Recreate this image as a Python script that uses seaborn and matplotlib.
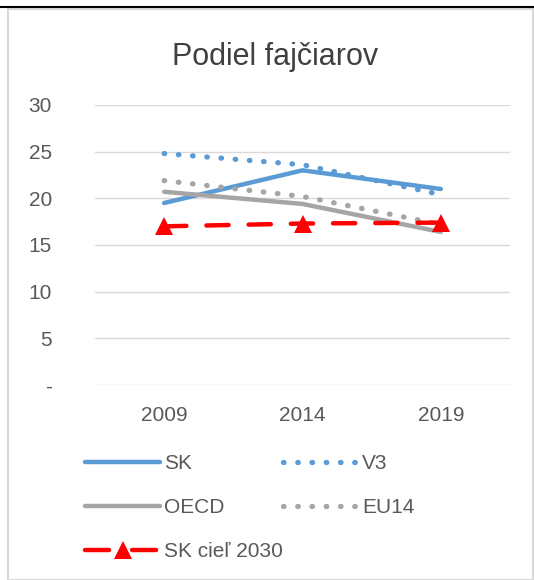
import matplotlib
matplotlib.use("Agg")
import matplotlib.pyplot as plt
import seaborn as sns
import pandas as pd
from matplotlib.lines import Line2D
from matplotlib.patches import Rectangle
from matplotlib.legend_handler import HandlerLine2D

years = ["2009", "2014", "2019"]
sk = [19.5, 23.0, 21.0]
v3 = [24.8, 23.6, 20.4]
oecd = [20.7, 19.4, 16.4]
eu14 = [21.9, 20.2, 17.2]
sk_target = [17.0, 17.3, 17.4]
yticks = [0, 5, 10, 15, 20, 25, 30]
ytick_labels = ["-", "5", "10", "15", "20", "25", "30"]

sns.set_theme(style="white")
plt.rcParams["font.family"] = ["Liberation Sans", "DejaVu Sans"]

fig = plt.figure(figsize=(5.34, 5.8), dpi=100)
ax = fig.add_axes([95/534, 1-385/580, 415/534, (385-105)/580])

blue = "#5B9BD5"
gray = "#A5A5A5"
red = "#FF0000"
txt = "#595959"
dots = (0, (0.1, 2.6))
dot_lw = 3.8

df = pd.DataFrame({"x": range(len(years)), "SK": sk, "V3": v3, "OECD": oecd,
                   "EU14": eu14, "SKT": sk_target})

for y in yticks:
    ax.axhline(y, color="#D9D9D9", lw=1, zorder=0)

sns.lineplot(data=df, x="x", y="SK", ax=ax, color=blue, lw=3.2,
             solid_capstyle="round")
sns.lineplot(data=df, x="x", y="V3", ax=ax, color=blue, lw=dot_lw)
ax.lines[-1].set_linestyle(dots)
ax.lines[-1].set_dash_capstyle("round")
sns.lineplot(data=df, x="x", y="OECD", ax=ax, color=gray, lw=3.2,
             solid_capstyle="round")
sns.lineplot(data=df, x="x", y="EU14", ax=ax, color=gray, lw=dot_lw)
ax.lines[-1].set_linestyle(dots)
ax.lines[-1].set_dash_capstyle("round")
sns.lineplot(data=df, x="x", y="SKT", ax=ax, color=red, lw=3.2,
             marker="^", markersize=13, markeredgewidth=0)
ax.lines[-1].set_linestyle((0, (5, 4.5)))
ax.lines[-1].set_dash_capstyle("round")

ax.set_xlim(-0.5, 2.5)
ax.set_ylim(0, 30)
ax.set_xticks(range(len(years)))
ax.set_xticklabels(years)
ax.set_yticks(yticks)
ax.set_yticklabels(ytick_labels)
ax.tick_params(axis="both", length=0, labelsize=15, colors=txt)
ax.tick_params(axis="y", pad=31)
ax.tick_params(axis="x", pad=15)
ax.set_xlabel("")
ax.set_ylabel("")
for s in ax.spines.values():
    s.set_visible(False)

fig.text(275/534, 1-57/580, "Podiel fajčiarov", ha="center", va="center",
         fontsize=22, color="#404040")

red_handle = Line2D([], [], color=red, lw=3.2)
handles = [
    Line2D([], [], color=blue, lw=3.2, solid_capstyle="round"),
    Line2D([], [], color=gray, lw=3.2, solid_capstyle="round"),
    red_handle,
    Line2D([], [], color=blue, lw=dot_lw, linestyle=dots, dash_capstyle="round"),
    Line2D([], [], color=gray, lw=dot_lw, linestyle=dots, dash_capstyle="round"),
]
labels = ["SK", "OECD", "SK cieľ 2030", "V3", "EU14"]


class RedHandler(HandlerLine2D):
    def create_artists(self, legend, orig_handle, xdescent, ydescent, width,
                       height, fontsize, trans):
        y = height / 2 - ydescent
        line = Line2D([-xdescent, -xdescent + width], [y, y], color=red,
                      lw=3.2, linestyle=(0, (5.4, 5.2)), dash_capstyle="round",
                      transform=trans)
        mk = Line2D([-xdescent + width / 2], [y], color=red, marker="^",
                    markersize=13, markeredgewidth=0, linestyle="none",
                    transform=trans)
        return [line, mk]


leg = fig.legend(handles, labels, ncol=2, loc="upper left",
                 bbox_to_anchor=(85/534, 1-454/580), frameon=False,
                 borderpad=0, borderaxespad=0,
                 fontsize=15, handlelength=3.6, handletextpad=0.2,
                 columnspacing=0.0, labelspacing=1.2, labelcolor=txt,
                 handler_map={red_handle: RedHandler()})

fig.add_artist(Line2D([0, 1], [1-7/580, 1-7/580], color="black", lw=1.5,
                      transform=fig.transFigure))
fig.add_artist(Rectangle((8/534, 0), 1-9/534, 1-9/580, fill=False,
                         edgecolor="#D9D9D9", lw=1.5, transform=fig.transFigure))

fig.savefig("out.png", dpi=100)
